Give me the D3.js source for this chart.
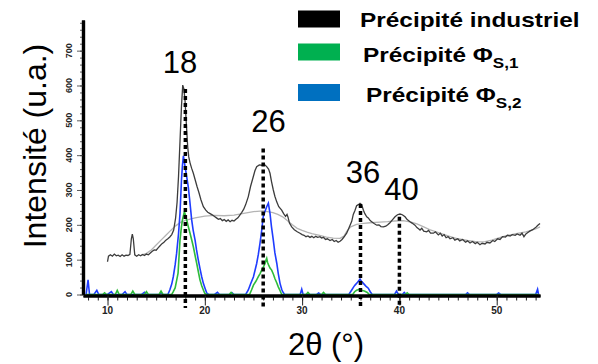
<!DOCTYPE html>
<html><head><meta charset="utf-8">
<script src="https://cdn.jsdelivr.net/npm/d3@7"></script>
<style>
body{margin:0;background:#fff;}
svg{display:block;font-family:"Liberation Sans",Arial,sans-serif;}
</style></head><body>
<svg id="c" width="598" height="364"></svg>
<script>
// ---------- data ----------
const industriel = [[10.0,94],[10.1,110],[10.3,114],[10.5,110],[10.7,116],[10.9,111],[11.1,113],[11.3,109],[11.5,114],[11.7,110],[11.9,113],[12.1,112],[12.3,115],[12.45,160],[12.55,173],[12.65,160],[12.8,114],[13.0,110],[13.2,114],[13.4,111],[13.6,115],[13.8,112],[14.0,116],[14.2,114],[14.4,119],[14.6,124],[14.8,128],[15.0,127],[15.2,134],[15.4,140],[15.6,146],[15.8,150],[16.0,156],[16.2,160],[16.4,165],[16.6,172],[16.8,185],[17.0,220],[17.15,265],[17.3,340],[17.45,440],[17.6,540],[17.73,601],[17.85,590],[17.97,555],[18.1,490],[18.24,424],[18.35,395],[18.48,378],[18.65,362],[18.82,348],[19.0,330],[19.2,310],[19.4,292],[19.6,272],[19.85,252],[20.1,242],[20.3,236],[20.5,233],[20.8,228],[21.0,224],[21.2,220],[21.4,216],[21.6,218],[21.8,212],[22.0,215],[22.2,210],[22.4,214],[22.6,209],[22.8,213],[23.0,211],[23.2,216],[23.4,220],[23.6,228],[23.8,236],[24.0,245],[24.2,258],[24.47,281],[24.7,310],[24.98,338],[25.15,355],[25.33,367],[25.6,372],[25.85,371],[26.1,374],[26.36,367],[26.55,360],[26.7,348],[26.85,325],[27.04,300],[27.2,282],[27.39,266],[27.6,252],[27.9,242],[28.1,232],[28.3,224],[28.45,230],[28.55,222],[28.7,205],[28.93,194],[29.2,186],[29.5,180],[29.78,176],[30.0,172],[30.2,170],[30.4,166],[30.6,168],[30.81,164],[31.0,167],[31.2,163],[31.4,167],[31.6,164],[31.84,166],[32.0,162],[32.2,164],[32.4,158],[32.6,160],[32.87,155],[33.1,158],[33.3,152],[33.5,155],[33.7,150],[33.9,153],[34.1,158],[34.3,165],[34.58,176],[34.8,190],[35.1,210],[35.26,230],[35.44,242],[35.6,255],[35.78,258],[35.95,262],[36.12,258],[36.3,242],[36.45,232],[36.64,223],[36.8,220],[37.0,212],[37.15,209],[37.4,204],[37.67,199],[37.9,200],[38.1,195],[38.35,194],[38.6,196],[38.8,200],[39.03,206],[39.3,215],[39.55,223],[39.8,229],[40.06,231],[40.3,229],[40.58,223],[40.8,215],[41.09,209],[41.3,205],[41.6,199],[41.8,192],[42.0,188],[42.12,185],[42.3,190],[42.5,182],[42.8,180],[43.0,184],[43.2,176],[43.5,176],[43.7,180],[44.0,171],[44.2,176],[44.4,168],[44.6,172],[44.8,163],[45.0,166],[45.2,160],[45.5,163],[45.7,156],[46.0,160],[46.2,154],[46.5,158],[46.8,150],[47.0,154],[47.26,148],[47.5,152],[47.8,146],[48.0,150],[48.28,143],[48.5,147],[48.8,145],[49.0,150],[49.3,148],[49.6,155],[49.8,152],[50.1,160],[50.34,158],[50.6,166],[50.9,165],[51.1,170],[51.37,168],[51.6,172],[51.9,170],[52.1,174],[52.4,170],[52.6,176],[52.8,166],[53.0,174],[53.2,178],[53.4,182],[53.7,186],[54.0,192],[54.2,198],[54.45,204]];

const fond = [[13.5,113],[14.0,118],[14.5,128],[15.0,142],[15.5,156],[16.0,170],[16.5,184],[17.0,197],[17.5,207],[18.0,213],[19.0,220],[20.0,225],[21.0,227],[22.0,226],[23.0,228],[24.0,233],[25.0,238],[26.0,240],[27.0,235],[27.5,230],[28.0,223],[28.5,212],[29.0,200],[29.5,190],[30.0,184],[30.5,179],[31.0,175],[31.8,170],[32.5,165],[33.2,162],[33.9,161],[34.3,168],[34.6,182],[35.0,194],[35.6,201],[36.3,204],[37.0,206],[38.0,208],[38.8,209],[39.5,211],[40.4,212],[41.2,208],[41.8,203],[42.5,194],[43.1,186],[44.0,178],[45.0,168],[46.0,160],[47.0,155],[48.0,151],[48.8,152],[49.5,156],[50.3,163],[51.0,169],[52.0,175],[53.0,180],[54.0,188],[54.45,194]];

const phiS2 = [[7.8,0],[8.0,42],[8.15,0],[8.6,0],[8.9,12],[9.1,0],[10.0,0],[10.4,8],[10.6,0],[11.5,0],[11.8,8],[12.0,0],[13.5,0],[13.8,6],[14.0,0],[15.3,0],[15.5,5],[15.7,0],[16.2,0],[16.4,13],[16.6,30],[16.76,51],[16.95,85],[17.1,118],[17.3,175],[17.45,233],[17.6,328],[17.7,370],[17.8,398],[17.97,367],[18.1,345],[18.3,309],[18.45,270],[18.65,214],[18.8,185],[19.0,156],[19.15,128],[19.33,99],[19.5,75],[19.68,51],[19.85,32],[20.02,18],[20.2,4],[20.4,0],[21.0,0],[21.3,6],[21.5,0],[22.6,0],[22.8,5],[23.0,0],[24.2,0],[24.47,13],[24.7,30],[25.0,51],[25.15,68],[25.33,89],[25.5,115],[25.67,147],[25.85,185],[26.0,223],[26.2,240],[26.36,252],[26.53,262],[26.7,233],[26.85,195],[27.04,156],[27.2,120],[27.4,89],[27.55,60],[27.73,32],[27.9,15],[28.0,8],[28.2,0],[29.8,0],[29.96,15],[30.1,0],[31.5,0],[31.7,4],[31.9,0],[34.8,0],[35.1,13],[35.3,22],[35.44,27],[35.7,35],[35.95,44],[36.1,38],[36.3,32],[36.55,24],[36.8,18],[37.0,8],[37.2,0],[39.5,0],[39.7,10],[39.9,0],[40.3,0],[40.5,6],[40.7,0],[46.8,0],[47.0,5],[47.2,0],[50.0,0],[50.2,4],[50.4,0],[54.0,0],[54.2,15],[54.3,0]];

const phiS1 = [[7.8,0],[9.5,0],[9.7,5],[9.9,0],[10.8,0],[11.0,12],[11.2,0],[12.4,0],[12.6,10],[12.8,0],[13.8,0],[14.0,8],[14.2,0],[15.3,0],[15.5,10],[15.7,0],[16.6,0],[16.76,8],[16.95,19],[17.1,40],[17.25,61],[17.45,156],[17.6,195],[17.7,214],[17.9,238],[18.0,228],[18.14,214],[18.3,195],[18.48,176],[18.65,157],[18.82,137],[19.0,112],[19.17,89],[19.33,66],[19.5,42],[19.68,25],[19.85,13],[20.0,3],[20.2,0],[22.5,0],[22.7,6],[22.9,0],[24.6,0],[24.8,13],[25.0,27],[25.25,38],[25.5,51],[25.68,60],[25.85,70],[26.0,78],[26.19,89],[26.3,100],[26.36,104],[26.45,92],[26.55,85],[26.7,76],[26.87,70],[27.05,58],[27.2,46],[27.4,33],[27.55,22],[27.75,10],[27.9,0],[30.4,0],[30.6,6],[30.8,0],[32.0,0],[32.2,6],[32.4,0],[35.2,0],[35.4,8],[35.6,12],[35.9,15],[36.1,12],[36.4,10],[36.7,6],[36.9,0],[40.6,0],[40.8,5],[41.0,0],[54.3,0]];

const peakPos = [18, 26, 36, 40];
const peakTop = [590, 419, 260, 223];
const peakLabels = ["18", "26", "36", "40"];
const xMajor = [10, 20, 30, 40, 50];
const yMajor = [0, 100, 200, 300, 400, 500, 600, 700];
const legendNames = ["Précipité industriel", "Précipité Φ", "Précipité Φ"];
const legendSubs = ["", "S,1", "S,2"];
const legendColors = ["#000000", "#00b050", "#0070c0"];

// ---------- drawing ----------
const svg = d3.select("#c");
const x = d3.scaleLinear().domain([7.48, 54.45]).range([83, 540]);
const y = d3.scaleLinear().domain([0, 788]).range([294.5, 20]);

const line = d3.line().x(d => x(d[0])).y(d => y(d[1]));

svg.append("path").datum(fond).attr("d", line).attr("fill","none").attr("stroke","#b4b4b4").attr("stroke-width",1.3);
svg.append("path").datum(industriel).attr("d", line).attr("fill","none").attr("stroke","#3c3c3c").attr("stroke-width",1.3);
svg.append("path").datum(phiS2).attr("d", line).attr("fill","none").attr("stroke","#1f3cff").attr("stroke-width",1.6);
svg.append("path").datum(phiS1).attr("d", line).attr("fill","none").attr("stroke","#2dbb3a").attr("stroke-width",1.6);

// axes
const xMinor = d3.range(8, 55, 1);
const gx = svg.append("g").attr("transform","translate(0,295.5)");
gx.call(d3.axisBottom(x).tickValues(xMinor).tickSize(5).tickSizeOuter(0).tickFormat(""));
gx.append("g").call(d3.axisBottom(x).tickValues(xMajor).tickSize(10).tickSizeOuter(0).tickFormat(""));
gx.selectAll("path.domain").attr("stroke","#000").attr("stroke-width",3.2);
gx.selectAll(".tick line").attr("stroke","#222").attr("stroke-width",1);

const yMinor = d3.range(0, 781, 20);
const gy = svg.append("g").attr("transform","translate(83,0)");
gy.call(d3.axisLeft(y).tickValues(yMinor).tickSize(3).tickSizeOuter(0).tickFormat(""));
gy.append("g").call(d3.axisLeft(y).tickValues(yMajor).tickSize(6).tickSizeOuter(0).tickFormat(""));
gy.selectAll("path.domain").attr("stroke","#000").attr("stroke-width",3.2);
gy.selectAll(".tick line").attr("stroke","#333").attr("stroke-width",0.8);

svg.selectAll(".xl").data(xMajor).enter().append("text")
  .attr("x", d => x(d)).attr("y", 313.5).attr("text-anchor","middle")
  .attr("font-size",10).attr("font-weight","bold").attr("fill","#222").text(d => d);
svg.selectAll(".yl").data(yMajor).enter().append("text")
  .attr("transform", d => `translate(72,${y(d)}) rotate(-90)`).attr("text-anchor","middle")
  .attr("font-size",9).attr("font-weight","bold").attr("fill","#222").text(d => d);

// dotted peak lines
svg.selectAll(".pk").data(peakPos).enter().append("line")
  .attr("x1", d => x(d)).attr("x2", d => x(d))
  .attr("y1", (d,i) => y(peakTop[i])).attr("y2", 308)
  .attr("stroke","#000").attr("stroke-width",3.5).attr("stroke-dasharray","4,3");

const labPos = [[180,73],[268.5,132],[363,183],[401.5,200]];
svg.selectAll(".pl").data(peakLabels).enter().append("text")
  .attr("x",(d,i)=>labPos[i][0]).attr("y",(d,i)=>labPos[i][1]).attr("text-anchor","middle")
  .attr("font-size",31).attr("fill","#000").text(d=>d);

// axis titles
svg.append("text").attr("transform","translate(45.5,146) rotate(-90)").attr("text-anchor","middle")
  .attr("font-size",32).attr("fill","#000").text("Intensité (u.a.)");
svg.append("text").attr("x",326).attr("y",355).attr("text-anchor","middle")
  .attr("font-size",31).attr("fill","#000").text("2θ (°)");

// legend
const legRectY = [10.5, 43.5, 84];
const legTextX = [360, 363, 366];
const legTextY = [27, 61.5, 101.5];
legendNames.forEach((name,i) => {
  svg.append("rect").attr("x",298).attr("y",legRectY[i]).attr("width",42).attr("height",17).attr("fill",legendColors[i]);
  const t = svg.append("text").attr("transform",`translate(${legTextX[i]},${legTextY[i]}) scale(1.22,1)`)
    .attr("font-size",20).attr("font-weight","bold").attr("fill","#000");
  t.append("tspan").text(name);
  if (legendSubs[i]) t.append("tspan").attr("font-size",14).attr("dy",6).text(legendSubs[i]);
});
</script>
</body></html>
